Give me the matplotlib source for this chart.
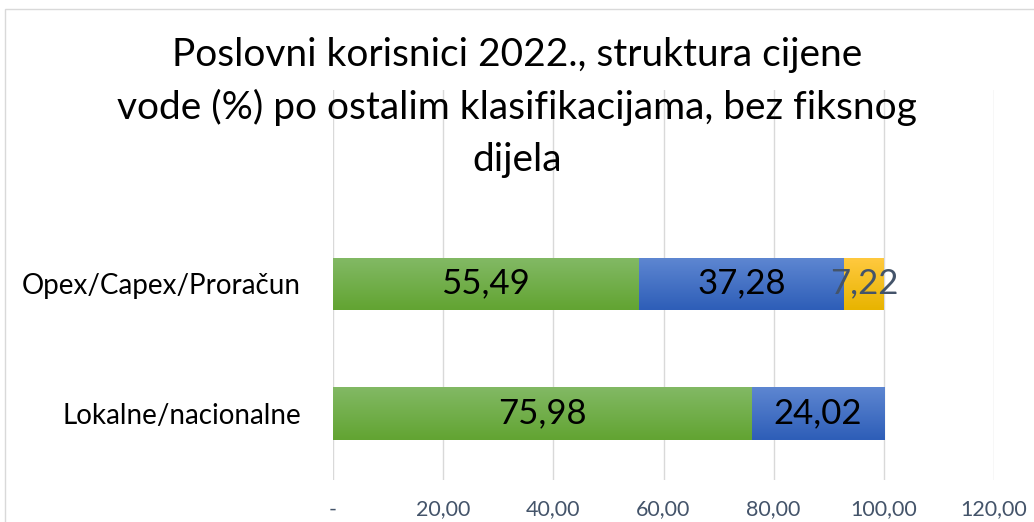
import numpy as np
import matplotlib.pyplot as plt
from matplotlib.patches import Rectangle
from matplotlib.colors import LinearSegmentedColormap

plt.rcParams['font.family'] = ['Lato', 'DejaVu Sans']

categories = ['Lokalne/nacionalne', 'Opex/Capex/Proračun']
part1 = [75.98, 55.49]
part2 = [24.02, 37.28]
part3 = [0.0, 7.22]
xticks = [0, 20, 40, 60, 80, 100, 120]
xtick_labels = ['-', '20,00', '40,00', '60,00', '80,00', '100,00', '120,00']

# (bottom, top) shades for a light Excel-like gradient
green = ('#62A432', '#82B964')
blue = ('#2E5EB8', '#5D86D1')
gold = ('#E8B400', '#FFC93F')

fig = plt.figure(figsize=(10.34, 5.22), dpi=100)
ax = fig.add_axes([333/1034, 42/522, (994-333)/1034, (432-42)/522])

y = np.arange(len(categories))
h = 0.4
p1 = np.array(part1)
p2 = np.array(part2)
p3 = np.array(part3)
grad = np.linspace(0, 1, 64).reshape(-1, 1)

for vals, lefts, cols in [(p1, 0, green), (p2, p1, blue), (p3, p1 + p2, gold)]:
    bars = ax.barh(y, vals, left=lefts, height=h, color=cols[0], zorder=2)
    cmap = LinearSegmentedColormap.from_list('g', list(cols))
    for b in bars:
        if b.get_width() <= 0:
            continue
        x0, y0 = b.get_xy()
        ax.imshow(grad, cmap=cmap, origin='lower', aspect='auto', zorder=2.1,
                  extent=(x0, x0 + b.get_width(), y0, y0 + b.get_height()))

def fmt(v):
    return f'{v:.2f}'.replace('.', ',')

for i in range(len(categories)):
    ax.text(p1[i] / 2, y[i], fmt(p1[i]), ha='center', va='center', fontsize=25, color='black', zorder=3)
    ax.text(p1[i] + p2[i] / 2, y[i], fmt(p2[i]), ha='center', va='center', fontsize=25, color='black', zorder=3)
    if p3[i] > 0:
        ax.text(p1[i] + p2[i] + p3[i] / 2, y[i], fmt(p3[i]), ha='center', va='center', fontsize=25,
                color='#44546A', zorder=3)

ax.set_xlim(0, 120)
ax.set_ylim(-0.51, 2.49)
ax.set_xticks(xticks)
ax.set_xticklabels(xtick_labels, fontsize=15.5, color='#44546A')
ax.set_yticks(y)
ax.set_yticklabels(categories, fontsize=20, color='black')
ax.tick_params(axis='both', length=0)
ax.tick_params(axis='x', pad=14)
ax.tick_params(axis='y', pad=23)
ax.grid(axis='x', color='#D9D9D9', linewidth=1, zorder=0)
ax.set_axisbelow(True)
for s in ax.spines.values():
    s.set_visible(False)

fig.text(0.5, 0.93, 'Poslovni korisnici 2022., struktura cijene\nvode (%) po ostalim klasifikacijama, bez fiksnog\ndijela',
         ha='center', va='top', fontsize=28, linespacing=1.55, color='black')

fig.patches.append(Rectangle((5/1034, -0.1), 1.1, (522-9)/522 + 0.1, transform=fig.transFigure,
                             fill=False, edgecolor='#D9D9D9', linewidth=1))

fig.savefig('out.png', dpi=100, facecolor='white')
